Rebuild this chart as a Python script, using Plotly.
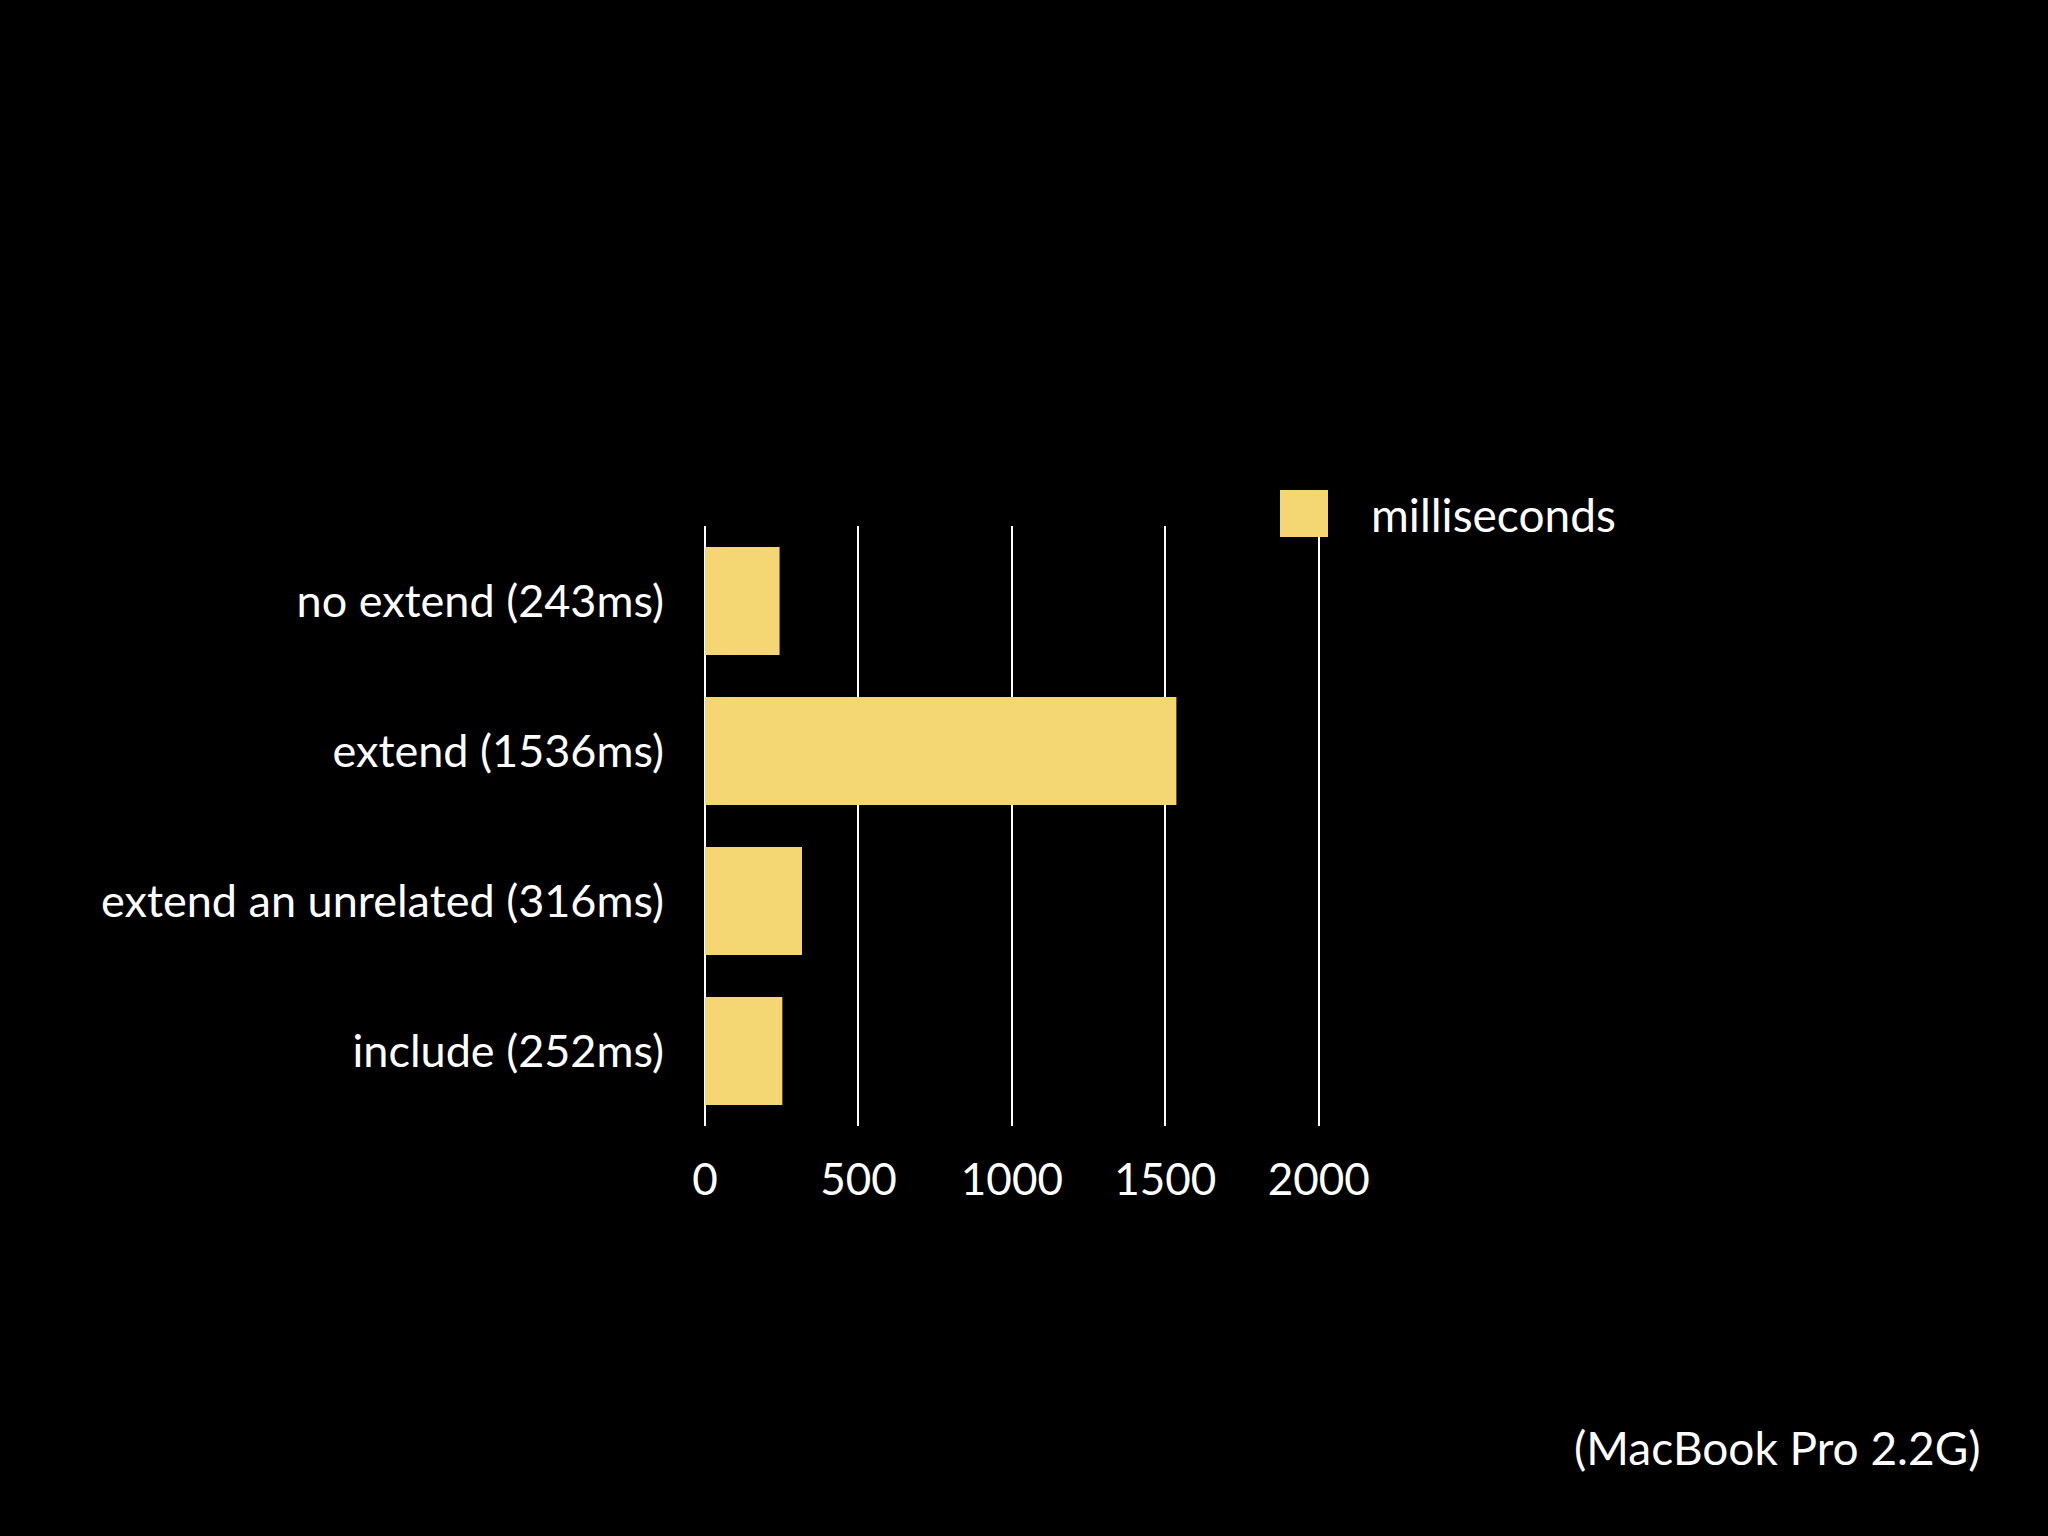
import plotly.graph_objects as go

categories = ["no extend (243ms)", "extend (1536ms)", "extend an unrelated (316ms)", "include (252ms)"]
values = [243, 1536, 316, 252]
series_name = "milliseconds"
x_ticks = [0, 500, 1000, 1500, 2000]
footnote = "(MacBook Pro 2.2G)"

BAR = "#F4D673"
FONT = "Lato, 'Open Sans', sans-serif"

XMAX = 2030
X0 = 705                       # plot area left px
X1 = round(X0 + 614 / 2000 * XMAX)  # plot area right px
Y0, Y1 = 526, 1126             # plot area top/bottom px
PW, PH = X1 - X0, Y1 - Y0


def px(x):
    return (x - X0) / PW


def py(y):
    return (Y1 - y) / PH


fig = go.Figure()
fig.add_trace(go.Bar(
    y=categories, x=values, orientation="h", name=series_name,
    marker=dict(color=BAR, line=dict(width=0)), width=0.72, showlegend=False,
))

fig.update_layout(
    width=2048, height=1536,
    paper_bgcolor="black", plot_bgcolor="black",
    margin=dict(l=X0, r=2048 - X1, t=Y0, b=1536 - Y1),
    font=dict(family=FONT, color="white", size=44),
    xaxis=dict(range=[0, XMAX], tickvals=x_ticks, showgrid=True, gridcolor="white",
               gridwidth=2, zeroline=True, zerolinecolor="white", zerolinewidth=2,
               showline=False, tickfont=dict(size=44, color="white"),
               ticks="", ticklabelstandoff=24),
    yaxis=dict(categoryorder="array", categoryarray=categories[::-1],
               range=[-0.5, 3.5], showgrid=False, zeroline=False, showline=False,
               ticks="", tickfont=dict(size=45, color="white"), ticklabelstandoff=40),
    shapes=[dict(type="rect", xref="paper", yref="paper",
                 x0=px(1280), x1=px(1328), y0=py(537), y1=py(490),
                 fillcolor=BAR, line=dict(width=0))],
    annotations=[
        dict(text=series_name, xref="paper", yref="paper",
             x=px(1369), y=py(514), xanchor="left", yanchor="middle",
             showarrow=False, font=dict(size=46, color="white")),
        dict(text=footnote, xref="paper", yref="paper",
             x=px(1983), y=py(1447), xanchor="right", yanchor="middle",
             showarrow=False, font=dict(size=46, color="white")),
    ],
)

fig.write_html(
    "out.html",
    config={"displayModeBar": False},
    post_script="document.body.style.margin='0';document.body.style.background='black';",
)
